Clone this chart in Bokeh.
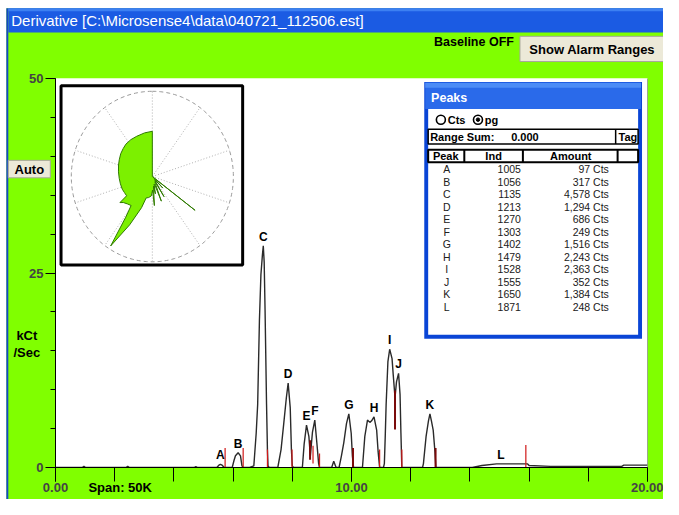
from bokeh.plotting import figure
from bokeh.models import Range1d, FixedTicker, ColumnDataSource, NumeralTickFormatter, Span
from bokeh.core.properties import value
from bokeh.embed import file_html
from bokeh.resources import INLINE
import numpy as np

# ---------------- data ----------------
time_min = [0.00, 0.90, 0.96, 1.02, 2.38, 2.44, 2.50, 4.68, 4.74, 4.80,
            5.45, 5.52, 5.57, 5.63, 5.70,
            5.97, 6.03, 6.08, 6.17, 6.25, 6.30, 6.34,
            6.56, 6.70, 6.78, 6.83, 6.89, 6.94, 6.99, 7.02, 7.05, 7.08, 7.13, 7.16, 7.18, 7.22,
            7.51, 7.62, 7.71, 7.80, 7.86, 7.93, 7.97, 8.00, 8.04,
            8.34, 8.40, 8.48, 8.56, 8.61, 8.68, 8.76, 8.83, 8.89, 8.92,
            9.33, 9.40, 9.47, 9.50,
            9.58, 9.66, 9.74, 9.83, 9.91, 9.99, 10.03, 10.07,
            10.37, 10.41, 10.45, 10.54, 10.62, 10.68, 10.76, 10.85, 10.90, 10.95,
            11.08, 11.11, 11.14, 11.17, 11.23, 11.29, 11.33, 11.37, 11.41, 11.47, 11.52, 11.59, 11.64, 11.67, 11.70,
            12.40, 12.43, 12.52, 12.60, 12.65, 12.70, 12.76, 12.82, 12.85,
            14.08, 14.41, 14.90, 15.95, 16.00, 16.72, 19.13, 19.20, 20.00]
kct_per_sec = [0.00, 0.00, 0.15, 0.00, 0.00, 0.15, 0.00, 0.00, 0.12, 0.00,
               0.00, 0.30, 0.40, 0.30, 0.00,
               0.00, 0.90, 1.50, 1.90, 1.50, 0.20, 0.00,
               0.00, 0.20, 4.40, 8.10, 19.00, 24.80, 27.30, 28.50, 26.40, 20.20, 8.10, 2.30, 0.20, 0.00,
               0.00, 2.30, 5.60, 9.00, 10.85, 7.70, 2.30, 0.20, 0.00,
               0.00, 3.00, 5.45, 4.00, 1.50, 4.50, 6.10, 3.15, 0.50, 0.00,
               0.00, 0.80, 0.10, 0.00,
               0.00, 1.50, 3.20, 5.65, 6.90, 4.40, 1.50, 0.00,
               0.00, 2.00, 4.00, 6.10, 5.80, 6.00, 6.50, 4.80, 2.00, 0.00,
               0.00, 0.50, 4.00, 8.10, 13.60, 15.20, 14.60, 14.00, 11.90, 9.00, 11.00, 12.10, 9.40, 4.40, 0.00,
               0.00, 0.50, 4.00, 6.00, 6.90, 6.00, 4.80, 2.00, 0.00,
               0.00, 0.25, 0.46, 0.46, 0.25, 0.15, 0.15, 0.30, 0.30]

# range markers (red ticks)
mark_x = [5.73, 6.34, 7.16, 7.99, 8.70, 8.92, 10.95, 11.70, 15.89]
mark_lo = [0.0, 0.0, 0.0, 0.0, 0.5, 0.0, 0.0, 0.0, 0.0]
mark_hi = [2.5, 2.5, 2.3, 2.3, 2.8, 1.8, 2.3, 2.3, 2.9]
mark_dark_x = [8.60, 10.05, 11.47, 12.84]
mark_dark_lo = [1.0, 0.0, 4.9, 0.0]
mark_dark_hi = [3.5, 2.5, 9.9, 2.5]

peak_names = ["A", "B", "C", "D", "E", "F", "G", "H", "I", "J", "K", "L"]
peak_apex_x = [5.57, 6.17, 7.02, 7.86, 8.48, 8.76, 9.91, 10.76, 11.29, 11.59, 12.65, 15.05]
peak_apex_y = [0.40, 1.90, 28.50, 10.85, 5.45, 6.10, 6.90, 6.50, 15.20, 12.10, 6.90, 0.46]
peak_ind = [1005, 1056, 1135, 1213, 1270, 1303, 1402, 1479, 1528, 1555, 1650, 1871]
peak_cts = [97, 317, 4578, 1294, 686, 249, 1516, 2243, 2363, 352, 1384, 248]

x_ticks = [0, 10, 20]
x_minor = [0, 2, 4, 6, 8, 10, 12, 14, 16, 18, 20]
y_ticks = [0, 25, 50]
y_minor = [0, 5, 10, 15, 20, 25, 30, 35, 40, 45, 50]

# inset polar profile: angle (deg, clockwise from top), radius (fraction of ring)
polar_angle = [120, 122, 125, 127.5, 128.5, 129.5, 132, 135, 138, 141, 146, 150, 153, 157, 160, 163,
               167, 170, 173, 176, 179, 183, 190, 196, 199, 205, 210.8, 213, 216, 222, 228, 231, 233,
               240, 247, 257, 267, 278, 289, 297, 306, 314, 321, 330, 339, 350, 360]
polar_r = [0.0, 0.023, 0.011, 0.034, 0.636, 0.034, 0.023, 0.045, 0.182, 0.045, 0.057, 0.273, 0.068,
           0.091, 0.307, 0.114, 0.091, 0.205, 0.114, 0.341, 0.159, 0.227, 0.25, 0.261, 0.386, 0.625,
           0.948, 0.568, 0.42, 0.432, 0.455, 0.485, 0.375, 0.375, 0.38, 0.381, 0.386, 0.398, 0.416,
           0.432, 0.455, 0.472, 0.489, 0.5, 0.506, 0.52, 0.531]

# ---------------- style ----------------
GREEN = "#80FF00"
SANS = "Liberation Sans"
XP_BLUE = "#1B5BE3"
XP_LIGHT = "#3C80F2"
BTN = "#ECE9D8"
W, H = 663, 499
KX, KY = W / 679.0, H / 515.0   # screenshot pixels -> canvas pixels

p = figure(width=W, height=H, x_range=Range1d(0, 20), y_range=Range1d(0, 50),
           output_backend="svg", toolbar_location=None,
           min_border_left=55, min_border_right=16, min_border_top=78, min_border_bottom=32,
           background_fill_color="white", border_fill_color=GREEN, outline_line_color=None)
p.xgrid.visible = False
p.ygrid.visible = False
# screenshot-pixel ranges over the same frame, for the window chrome and overlays
p.extra_x_ranges = {"px": Range1d(55 / KX, 647 / KX)}
p.extra_y_ranges = {"py": Range1d(467 / KY, 78 / KY)}
PX = dict(x_range_name="px", y_range_name="py")

xa = p.xaxis[0]
xa.ticker = FixedTicker(ticks=x_ticks, minor_ticks=x_minor)
xa.formatter = NumeralTickFormatter(format="0.00")
xa.major_tick_out = 14
xa.major_tick_in = 0
xa.minor_tick_out = 14
xa.minor_tick_in = 0
xa.major_label_standoff = 1
xa.major_label_text_font = SANS
xa.major_label_text_font_size = "13px"
xa.major_label_text_font_style = "bold"
xa.axis_line_color = "black"

ya = p.yaxis[0]
ya.ticker = FixedTicker(ticks=y_ticks, minor_ticks=y_minor)
ya.major_tick_out = 10
ya.major_tick_in = 0
ya.minor_tick_out = 5
ya.minor_tick_in = 0
ya.major_label_standoff = 2
ya.major_label_text_font = SANS
ya.major_label_text_font_size = "13px"
ya.major_label_text_font_style = "bold"
ya.axis_line_color = "black"

p.add_layout(Span(location=20, dimension="height", line_color="#555555", line_width=1))

# ---------------- trace ----------------
p.line(time_min, kct_per_sec, line_color="#2a2a2a", line_width=1.4)
p.segment(x0=mark_x, y0=mark_lo, x1=mark_x, y1=mark_hi, line_color="#d01818", line_width=1.2)
p.segment(x0=mark_dark_x, y0=mark_dark_lo, x1=mark_dark_x, y1=mark_dark_hi, line_color="#7a0a0a", line_width=2)
p.text(x=peak_apex_x, y=peak_apex_y, text=peak_names, text_align="center", text_baseline="bottom",
       y_offset=-2, text_font=value(SANS), text_font_size="12px", text_font_style="bold", text_color="black")

# ---------------- inset polar plot ----------------
cx, cy, ring = 155.5, 181.7, 88.0
p.quad(left=[62], right=[248], top=[88], bottom=[273], fill_color="white", line_color="black", line_width=3, **PX)
t = np.linspace(0, 2 * np.pi, 181)
p.line(cx + 83 * np.sin(t), cy - ring * np.cos(t), line_color="#9a9a9a", line_dash="4 3", line_width=1, **PX)
spokes = np.deg2rad(np.arange(0, 360, 36))
p.segment(x0=[cx] * len(spokes), y0=[cy] * len(spokes), x1=cx + 83 * np.sin(spokes), y1=cy - ring * np.cos(spokes),
          line_color="#b0b0b0", line_dash="1 2", line_width=1, **PX)
ang = np.deg2rad(np.array(polar_angle))
rr = np.array(polar_r) * ring
sx = np.concatenate([[cx], cx + rr * np.sin(ang), [cx]])
sy = np.concatenate([[cy], cy - rr * np.cos(ang), [cy]])
p.patch(sx, sy, fill_color="#7CF000", line_color="#2F7A00", line_width=1, **PX)

# ---------------- Peaks window ----------------
p.quad(left=[434], right=[657], top=[84], bottom=[349], fill_color="#0A45D6", line_color=None, **PX)
p.quad(left=[435], right=[656], top=[85], bottom=[112], fill_color="#2A6AEA", line_color=None, **PX)
p.quad(left=[435], right=[656], top=[85], bottom=[90], fill_color="#4C8CF6", line_color=None, **PX)
p.quad(left=[438], right=[653], top=[112], bottom=[345], fill_color="white", line_color=None, **PX)
p.text(x=[441], y=[101], text=["Peaks"], text_font=value(SANS), text_font_size="12.5px", text_font_style="bold",
       text_color="white", text_baseline="middle", **PX)
# radio buttons
p.scatter(x=[451, 489], y=[123, 123], size=9, marker="circle", fill_color="white", line_color="black", line_width=1.6, **PX)
p.scatter(x=[489], y=[123], size=3.5, marker="circle", fill_color="black", line_color="black", **PX)
p.text(x=[458, 496], y=[123, 123], text=["Cts", "pg"], text_font=value(SANS), text_font_size="11px",
       text_font_style="bold", text_baseline="middle", **PX)
# range sum row
p.quad(left=[438], right=[653], top=[133], bottom=[148], fill_color="white", line_color="black", line_width=1.5, **PX)
p.segment(x0=[630], y0=[133], x1=[630], y1=[148], line_color="black", line_width=1.5, **PX)
p.text(x=[440, 523, 633], y=[141, 141, 141], text=["Range Sum:", "0.000", "Tag"], text_font=value(SANS),
       text_font_size="11px", text_font_style="bold", text_baseline="middle", **PX)
# header row
p.quad(left=[438], right=[653], top=[154], bottom=[167], fill_color="white", line_color="black", line_width=2, **PX)
p.segment(x0=[475, 535, 632], y0=[154] * 3, x1=[475, 535, 632], y1=[167] * 3, line_color="black", line_width=2, **PX)
p.text(x=[456, 505, 584], y=[161, 161, 161], text=["Peak", "Ind", "Amount"], text_font=value(SANS),
       text_font_size="11px", text_font_style="bold", text_align="center", text_baseline="middle", **PX)
# rows
row_y = [174 + 12.9 * i for i in range(len(peak_names))]
tbl = ColumnDataSource(dict(y=row_y, name=peak_names, ind=[str(v) for v in peak_ind],
                            amt=["{:,} Cts".format(v) for v in peak_cts],
                            xn=[457] * len(row_y), xi=[533] * len(row_y), xa=[623] * len(row_y)))
for col, xcol, align in (("name", "xn", "center"), ("ind", "xi", "right"), ("amt", "xa", "right")):
    p.text(x=xcol, y="y", text=col, source=tbl, text_font=value(SANS), text_font_size="10.5px",
           text_align=align, text_baseline="middle", text_color="#202020", **PX)

# ---------------- window chrome (overlay glyphs, not clipped to the frame) ----------------
def box(l, r, t_, b, fill, line=None, lw=1):
    p.quad(left=[l], right=[r], top=[t_], bottom=[b], fill_color=fill, line_color=line,
           line_width=lw, level="overlay", **PX)

def lab(text, x, y, size, bold=True, color="black", align="left"):
    p.text(x=[x], y=[y], text=[text], text_font=value(SANS), text_font_size=f"{size}px",
           text_font_style="bold" if bold else "normal", text_color=color,
           text_align=align, text_baseline="middle", level="overlay", **PX)

box(-10, 690, -10, 8, "white")
box(-10, 6, -10, 530, "white")
box(6, 8, 8, 530, "#1646C8")
box(8, 690, 8, 33, XP_BLUE)
box(8, 690, 8, 11, XP_LIGHT)
lab("Derivative [C:\\Microsense4\\data\\040721_112506.est]", 11, 21, 15, bold=False, color="white")
lab("Baseline OFF", 444, 43, 12.5)
box(532, 690, 37, 63, BTN, "#a8a79b")
lab("Show Alarm Ranges", 606, 51, 13, align="center")
box(8, 51, 165, 183, BTN, "#a8a79b")
lab("Auto", 29.5, 174.5, 13, align="center")
lab("kCt", 27, 346, 13, align="center")
lab("/Sec", 27, 363, 13, align="center")
lab("Span: 50K", 90, 503, 13)

open("out.html", "w").write(file_html(p, INLINE))
